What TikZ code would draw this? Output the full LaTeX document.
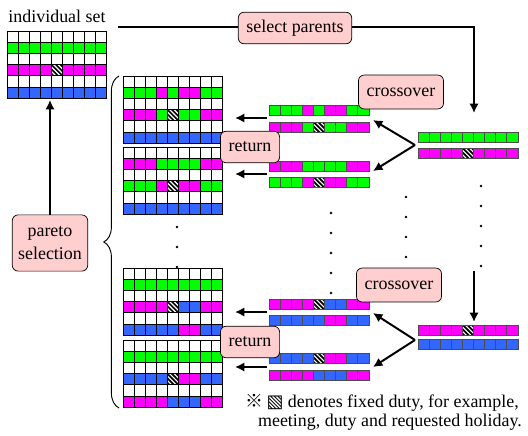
\documentclass[tikz,border=0pt]{standalone}
\usepackage{fontspec}
\setmainfont{Liberation Serif}
\newfontfamily\labelfont{Liberation Serif}
\newfontfamily\notemark{Noto Sans CJK JP}
\newfontfamily\notebox{DejaVu Sans}
\usetikzlibrary{arrows.meta}
\usetikzlibrary{decorations.pathreplacing}
\usepackage{xcolor}

\definecolor{dutygreen}{RGB}{0,255,0}
\definecolor{dutymagenta}{RGB}{255,0,255}
\definecolor{dutyblue}{RGB}{51,102,255}
\definecolor{tagpink}{RGB}{255,206,206}

\newcommand{\cw}{11.1}
\newcommand{\rh}{11.2}

% one row of duty cells: x, y, height, colours
\newcommand{\dutyrow}[4]{%
  \foreach \dc [count=\i from 0] in {#4}
    {\path[cell-\dc] ({#1+\i*\cw},{#2}) rectangle ({#1+(\i+1)*\cw},{#2+#3});}}

% schedule table: x, y, rows 2, 4 and 6 (rows 1, 3, 5 are empty)
\newcommand{\dutytable}[5]{%
  \foreach \r in {0,2,4}
    {\dutyrow{#1}{#2+\r*\rh}{\rh}{w,w,w,w,w,w,w,w,w}}
  \dutyrow{#1}{#2+1*\rh}{\rh}{#3}
  \dutyrow{#1}{#2+3*\rh}{\rh}{#4}
  \dutyrow{#1}{#2+5*\rh}{\rh}{#5}}

\tikzset{
  cell/.style={draw=black, line width=0.7pt},
  cell-w/.style={cell, fill=white},
  cell-g/.style={cell, fill=dutygreen},
  cell-m/.style={cell, fill=dutymagenta},
  cell-b/.style={cell, fill=dutyblue},
  cell-h/.style={cell, fill=white, path picture={
      \foreach \k in {-9,-4.5,0,4.5,9}
        \draw[line width=1.5pt, black]
          ([shift={(\k-7,-7)}]path picture bounding box.center) --
          ([shift={(\k+7,7)}]path picture bounding box.center);}},
  tag/.style={draw=black, line width=0.6pt, rounded corners=5pt, fill=tagpink,
    inner xsep=7pt, minimum height=27pt},
  flow/.style={line width=1.7pt, -{Latex[length=8pt,width=8pt]}},
  link/.style={line width=1.7pt},
  dot/.style={fill=black}
}

\begin{document}
\begin{tikzpicture}[x=0.03cm, y=-0.03cm, font=\labelfont\fontsize{15.3}{19}\selectfont]
  \useasboundingbox (0,0) rectangle (528,435);

  % population
  \node[anchor=base] (title) at (57,22) {individual set};
  \dutytable{7}{31}{g,g,g,g,g,g,g,g,g}{m,m,m,m,h,m,m,m,m}{b,b,b,b,b,b,b,b,b}
  \coordinate (pool) at (50,100);

  % offspring tables
  \dutytable{123}{76}{g,g,g,m,g,m,m,g,g}{m,m,m,g,h,g,g,m,m}{b,b,b,b,b,b,b,b,b}
  \dutytable{123}{147}{m,m,m,g,g,g,g,m,m}{g,g,g,m,h,m,m,g,g}{b,b,b,b,b,b,b,b,b}
  \dutytable{123}{268}{g,g,g,g,g,g,g,g,g}{m,m,m,m,h,b,b,m,m}{b,b,b,b,b,m,m,b,b}
  \dutytable{123}{340}{g,g,g,g,g,g,g,g,g}{b,b,b,b,h,m,m,b,b}{m,m,m,m,b,b,b,m,m}

  \begin{scope}[cell/.style={draw=black!70, line width=0.6pt}]
    % children after crossover
    \dutyrow{269}{105}{10.5}{g,g,g,m,g,m,m,g,g}
    \dutyrow{269}{122}{10.5}{m,m,m,g,h,g,g,m,m}
    \dutyrow{269}{161}{10.5}{m,m,m,g,g,g,g,m,m}
    \dutyrow{269}{177}{10.5}{g,g,g,m,h,m,m,g,g}
    \dutyrow{269}{299}{10.5}{m,m,m,m,h,b,b,m,m}
    \dutyrow{269}{315}{10.5}{b,b,b,b,b,m,m,b,b}
    \dutyrow{269}{353}{10.5}{b,b,b,b,h,m,m,b,b}
    \dutyrow{269}{370}{10.5}{m,m,m,m,b,b,b,m,m}
    % parents
    \dutyrow{418}{132}{10}{g,g,g,g,g,g,g,g,g}
    \dutyrow{418}{148}{10.5}{m,m,m,m,h,m,m,m,m}
    \dutyrow{418}{325}{10}{m,m,m,m,h,m,m,m,m}
    \dutyrow{418}{339}{10.5}{b,b,b,b,b,b,b,b,b}
  \end{scope}

  % ellipsis dots
  \foreach \y in {227,247,267} \fill[dot] (177,\y) circle (1.4);
  \foreach \y in {213,233,253,273,293} \fill[dot] (331,\y) circle (1.4);
  \foreach \y in {197,217,237,257} \fill[dot] (406,\y) circle (1.4);
  \foreach \y in {186,206,226,246,266} \fill[dot] (481,\y) circle (1.4);

  % connection points
  \coordinate (feed) at (118,27);
  \coordinate (drop) at (474,113);
  \coordinate (lift) at (474,271);
  \coordinate (land) at (474,322);
  \coordinate (fork1) at (415,145);
  \coordinate (fork2) at (415,340);
  \coordinate (kid1) at (373,120);
  \coordinate (kid2) at (373,171);
  \coordinate (kid3) at (373,313);
  \coordinate (kid4) at (373,367);
  \coordinate (back1) at (267,118);
  \coordinate (back2) at (267,174);
  \coordinate (back3) at (267,312);
  \coordinate (back4) at (267,367);
  \coordinate (sched1) at (235,118);
  \coordinate (sched2) at (235,174);
  \coordinate (sched3) at (235,312);
  \coordinate (sched4) at (235,367);

  % labels
  \node[tag] (select) at (295,28) {select parents};
  \node[tag, minimum height=29pt] (cross1) at (401,92) {crossover};
  \node[tag, minimum height=29pt] (cross2) at (399,285) {crossover};

  % arrows
  \draw[link] (feed) -- (select.west |- feed);
  \draw[flow] (select.east |- feed) -| (drop);
  \draw[flow] (lift) -- (land);
  \draw[flow] (fork1) -- (kid1);
  \draw[flow] (fork1) -- (kid2);
  \draw[flow] (fork2) -- (kid3);
  \draw[flow] (fork2) -- (kid4);
  \draw[flow] (back1) -- (sched1);
  \draw[flow] (back2) -- (sched2);
  \draw[flow] (back3) -- (sched3);
  \draw[flow] (back4) -- (sched4);

  % brace round the offspring
  \draw[decorate, decoration={brace, amplitude=13pt}, line width=0.8pt]
    (119,408) -- (119,76);

  \node[tag] (ret1) at (250,147) {return};
  \node[tag] (ret2) at (250,342) {return};
  \node[tag, align=center, inner xsep=5pt, minimum height=48pt] (pareto) at (50,243) {pareto\\selection};
  \draw[flow] (pareto.north) -- (pool);

  % footnote
  \node[anchor=base east, inner sep=0] (note1) at (519,407)
    {{\notemark ※}\,{\notebox ▧} denotes fixed duty, for example,};
  \node[anchor=base east, inner sep=0] (note2) at (522,426)
    {meeting, duty and requested holiday.};
\end{tikzpicture}
\end{document}
